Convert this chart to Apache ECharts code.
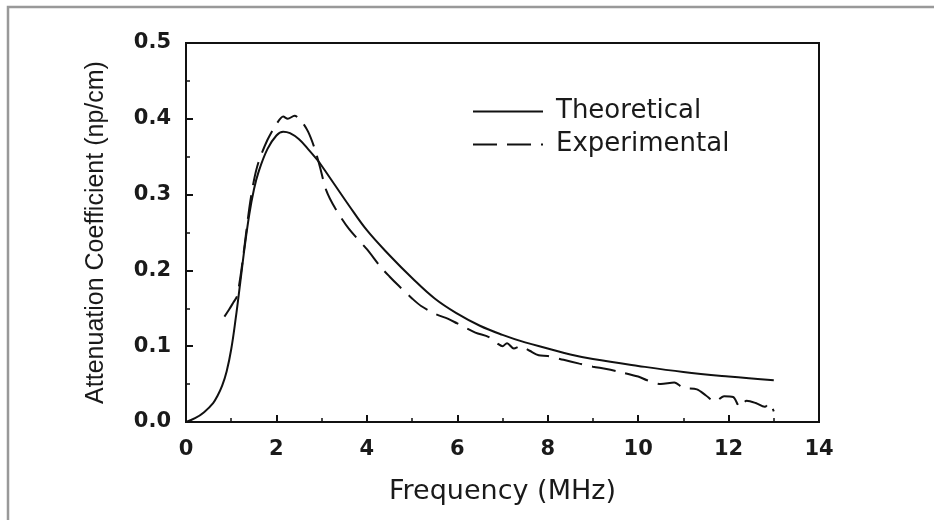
<!DOCTYPE html>
<html>
<head>
<meta charset="utf-8">
<script src="https://cdn.jsdelivr.net/npm/echarts@6/dist/echarts.min.js"></script>
<style>
html,body{margin:0;padding:0;background:#fff;}
#chart{width:934px;height:520px;}
</style>
</head>
<body>
<div id="chart"></div>
<script>
var seriesNames = ['Theoretical', 'Experimental'];
var xTicks = [0, 2, 4, 6, 8, 10, 12, 14];
var yTicks = [0.0, 0.1, 0.2, 0.3, 0.4, 0.5];

var theoX = [0, 0.2, 0.4, 0.6, 0.7, 0.8, 0.9, 1.0, 1.1, 1.2, 1.3, 1.4, 1.5, 1.6, 1.8, 2.0, 2.15, 2.3, 2.5, 2.7, 2.9, 3.0, 3.3, 3.6, 4.0, 4.5, 5.0, 5.5, 6.0, 6.5, 7.0, 7.5, 8.0, 8.5, 9.0, 10, 11, 12, 13];
var theoY = [0, 0.005, 0.013, 0.025, 0.035, 0.048, 0.067, 0.096, 0.137, 0.184, 0.232, 0.274, 0.306, 0.329, 0.36, 0.378, 0.383, 0.381, 0.373, 0.36, 0.346, 0.338, 0.312, 0.286, 0.253, 0.22, 0.19, 0.163, 0.143, 0.127, 0.115, 0.105, 0.097, 0.089, 0.083, 0.074, 0.066, 0.06, 0.055];

var expX = [0.85, 0.95, 1.05, 1.12, 1.2, 1.3, 1.4, 1.5, 1.6, 1.8, 2.0, 2.15, 2.25, 2.4, 2.55, 2.7, 2.85, 2.96, 3.1, 3.3, 3.6, 4.0, 4.3, 4.5, 4.7, 5.0, 5.2, 5.5, 5.8, 6.0, 6.4, 6.7, 6.9, 7.0, 7.1, 7.25, 7.4, 7.6, 7.8, 8.0, 8.35, 8.7, 9.0, 9.3, 9.6, 10.0, 10.2, 10.5, 10.8, 11.0, 11.3, 11.5, 11.7, 11.9, 12.1, 12.25, 12.4, 12.6, 12.8, 12.9, 13.0];
var expY = [0.139, 0.148, 0.158, 0.165, 0.19, 0.235, 0.282, 0.318, 0.342, 0.372, 0.393, 0.403, 0.4, 0.404, 0.397, 0.383, 0.36, 0.337, 0.306, 0.282, 0.255, 0.228, 0.205, 0.192, 0.18, 0.163, 0.153, 0.143, 0.136, 0.13, 0.118, 0.112, 0.103, 0.1, 0.104, 0.097, 0.1, 0.094, 0.088, 0.087, 0.082, 0.077, 0.073, 0.07, 0.066, 0.06, 0.055, 0.05, 0.052, 0.045, 0.043, 0.035, 0.027, 0.034, 0.033, 0.02, 0.028, 0.025, 0.02, 0.025, 0.014];

function zip(a, b) { return a.map(function (v, i) { return [v, b[i]]; }); }

var WIDE = '"DejaVu Sans", Verdana, sans-serif';
var NARROW = '"Liberation Sans", Arial, sans-serif';
var INK = '#1a1a1a';
var chart = echarts.init(document.getElementById('chart'), null, {renderer: 'canvas'});
chart.setOption({
  backgroundColor: '#fff',
  animation: false,
  graphic: [{
    type: 'rect', silent: true, z: -1,
    shape: {x: 8, y: 7, width: 940, height: 530},
    style: {fill: 'none', stroke: '#999', lineWidth: 2.5}
  }],
  grid: {left: 186, right: 115, top: 43, bottom: 98, show: true, borderColor: '#111', borderWidth: 2, backgroundColor: 'transparent'},
  legend: {
    left: 467, top: 93, orient: 'vertical', itemWidth: 70, itemHeight: 27, itemGap: 6,
    data: seriesNames,
    itemStyle: {opacity: 0},
    textStyle: {fontFamily: WIDE, fontSize: 26, color: INK, lineHeight: 27, padding: [0, 0, 0, 8]}
  },
  xAxis: {
    type: 'value', min: xTicks[0], max: xTicks[xTicks.length - 1], interval: 2,
    name: 'Frequency (MHz)', nameLocation: 'middle', nameGap: 56,
    nameTextStyle: {fontFamily: WIDE, fontSize: 27, color: INK},
    axisLine: {lineStyle: {color: '#111', width: 2}},
    axisTick: {inside: true, length: 7, lineStyle: {color: '#111', width: 2}},
    minorTick: {show: true, splitNumber: 2, length: 4, lineStyle: {color: '#111', width: 1.5}},
    splitLine: {show: false},
    axisLabel: {fontFamily: WIDE, fontSize: 21, fontWeight: 'bold', color: INK, margin: 17, formatter: function (v) { return String(v); }}
  },
  yAxis: {
    type: 'value', min: yTicks[0], max: yTicks[yTicks.length - 1], interval: 0.1,
    name: 'Attenuation Coefficient (np/cm)', nameLocation: 'middle', nameGap: 77,
    nameTextStyle: {fontFamily: NARROW, fontSize: 25, color: INK},
    axisLine: {lineStyle: {color: '#111', width: 2}},
    axisTick: {inside: true, length: 7, lineStyle: {color: '#111', width: 2}},
    minorTick: {show: true, splitNumber: 2, length: 4, lineStyle: {color: '#111', width: 1.5}},
    splitLine: {show: false},
    axisLabel: {fontFamily: WIDE, fontSize: 21, fontWeight: 'bold', color: INK, margin: 15, formatter: function (v) { return v.toFixed(1); }}
  },
  series: [{
    name: seriesNames[0], type: 'line', data: zip(theoX, theoY), smooth: 0.4, symbol: 'none',
    lineStyle: {color: '#111', width: 2}, itemStyle: {color: '#111'}
  }, {
    name: seriesNames[1], type: 'line', data: zip(expX, expY), smooth: 0.3, symbol: 'none',
    lineStyle: {color: '#111', width: 2, type: [24, 10]}, itemStyle: {color: '#111'}
  }]
});
</script>
</body>
</html>
